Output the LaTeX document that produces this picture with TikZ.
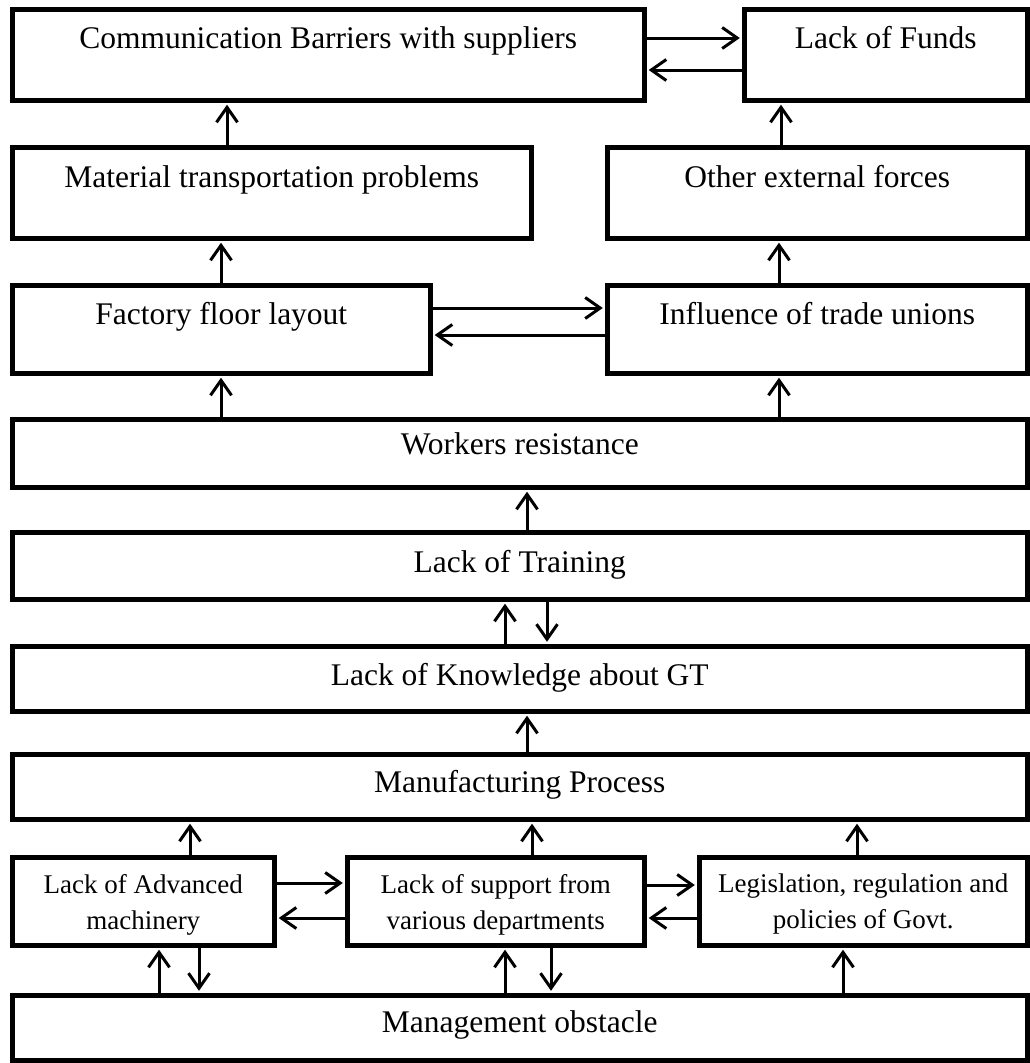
\documentclass[tikz,border=0pt]{standalone}
\usepackage{fontspec}
\setmainfont{Liberation Serif}
\usetikzlibrary{arrows.meta}

\begin{document}
\begin{tikzpicture}[x=1pt, y=-1pt,
  box/.style={draw, line width=4.5pt, inner sep=0pt, anchor=north west,
    font=\fontsize{31.5}{36}\selectfont},
  smallbox/.style={box, font=\fontsize{27}{36}\selectfont},
  conn/.style={line width=3pt, -{Straight Barb[length=15pt,width=21pt]},
    shorten >=2.2pt}
]
\useasboundingbox (0,0) rectangle (1030,1063);

% top pair
\node[box, minimum width=632, minimum height=91, text height=39, text depth=52]
  (comm) at (10,7) {Communication Barriers with suppliers};
\node[box, minimum width=283, minimum height=91, text height=39, text depth=52]
  (funds) at (742,7) {Lack of Funds};

% second pair
\node[box, minimum width=519, minimum height=91, text height=40, text depth=51]
  (material) at (10,145) {Material transportation problems};
\node[box, minimum width=420, minimum height=91, text height=40, text depth=51]
  (other) at (605,145) {Other external forces};

% third pair
\node[box, minimum width=418, minimum height=88, text height=39, text depth=49]
  (factory) at (10,283) {Factory floor layout};
\node[box, minimum width=420, minimum height=88, text height=39, text depth=49]
  (influence) at (605,283) {Influence of trade unions};

% full-width bands
\node[box, minimum width=1015, minimum height=68, text height=35, text depth=33]
  (workers) at (10,417) {Workers resistance};
\node[box, minimum width=1015, minimum height=67, text height=40, text depth=27]
  (training) at (10,530) {Lack of Training};
\node[box, minimum width=1015, minimum height=65, text height=39, text depth=26]
  (knowledge) at (10,644) {Lack of Knowledge about GT};
\node[box, minimum width=1015, minimum height=65, text height=38, text depth=27]
  (manufacturing) at (10,752) {Manufacturing Process};

% bottom row of three
\node[smallbox, minimum width=262, minimum height=88, text height=72, text depth=16]
  (advanced) at (10,855)
  {\begin{tabular}[b]{@{}c@{}}Lack of Advanced\\machinery\end{tabular}};
\node[smallbox, minimum width=297, minimum height=88, text height=72, text depth=16]
  (support) at (345,855)
  {\begin{tabular}[b]{@{}c@{}}Lack of support from\\various departments\end{tabular}};
\node[smallbox, minimum width=328, minimum height=88, text height=71, text depth=17]
  (legislation) at (697,855)
  {\begin{tabular}[b]{@{}c@{}}Legislation, regulation and\\policies of Govt.\end{tabular}};

\node[box, minimum width=1015, minimum height=65, text height=37, text depth=28]
  (management) at (10,993) {Management obstacle};

% connectors, top part
\draw[conn] (comm.east |- 0,38) -- (funds.west |- 0,38);
\draw[conn] (funds.west |- 0,70) -- (comm.east |- 0,70);
\draw[conn] (material.north -| 227,0) -- (comm.south -| 227,0);
\draw[conn] (other.north -| 781,0) -- (funds.south -| 781,0);
\draw[conn] (factory.north -| 221,0) -- (material.south -| 221,0);
\draw[conn] (influence.north -| 779,0) -- (other.south -| 779,0);
\draw[conn] (factory.east |- 0,308) -- (influence.west |- 0,308);
\draw[conn] (influence.west |- 0,335) -- (factory.east |- 0,335);
\draw[conn] (workers.north -| 221,0) -- (factory.south -| 221,0);
\draw[conn] (workers.north -| 779,0) -- (influence.south -| 779,0);

% connectors, middle column
\draw[conn] (training.north -| 527,0) -- (workers.south -| 527,0);
\draw[conn] (knowledge.north -| 505,0) -- (training.south -| 505,0);
\draw[conn] (training.south -| 547,0) -- (knowledge.north -| 547,0);
\draw[conn] (manufacturing.north -| 527,0) -- (knowledge.south -| 527,0);

% connectors, bottom part
\draw[conn] (advanced.north -| 190,0) -- (manufacturing.south -| 190,0);
\draw[conn] (support.north -| 532,0) -- (manufacturing.south -| 532,0);
\draw[conn] (legislation.north -| 857,0) -- (manufacturing.south -| 857,0);
\draw[conn] (advanced.east |- 0,883) -- (support.west |- 0,883);
\draw[conn] (support.west |- 0,918) -- (advanced.east |- 0,918);
\draw[conn] (support.east |- 0,885) -- (legislation.west |- 0,885);
\draw[conn] (legislation.west |- 0,918) -- (support.east |- 0,918);
\draw[conn] (management.north -| 159,0) -- (advanced.south -| 159,0);
\draw[conn] (advanced.south -| 199,0) -- (management.north -| 199,0);
\draw[conn] (management.north -| 505,0) -- (support.south -| 505,0);
\draw[conn] (support.south -| 551,0) -- (management.north -| 551,0);
\draw[conn] (management.north -| 843,0) -- (legislation.south -| 843,0);
\end{tikzpicture}
\end{document}
